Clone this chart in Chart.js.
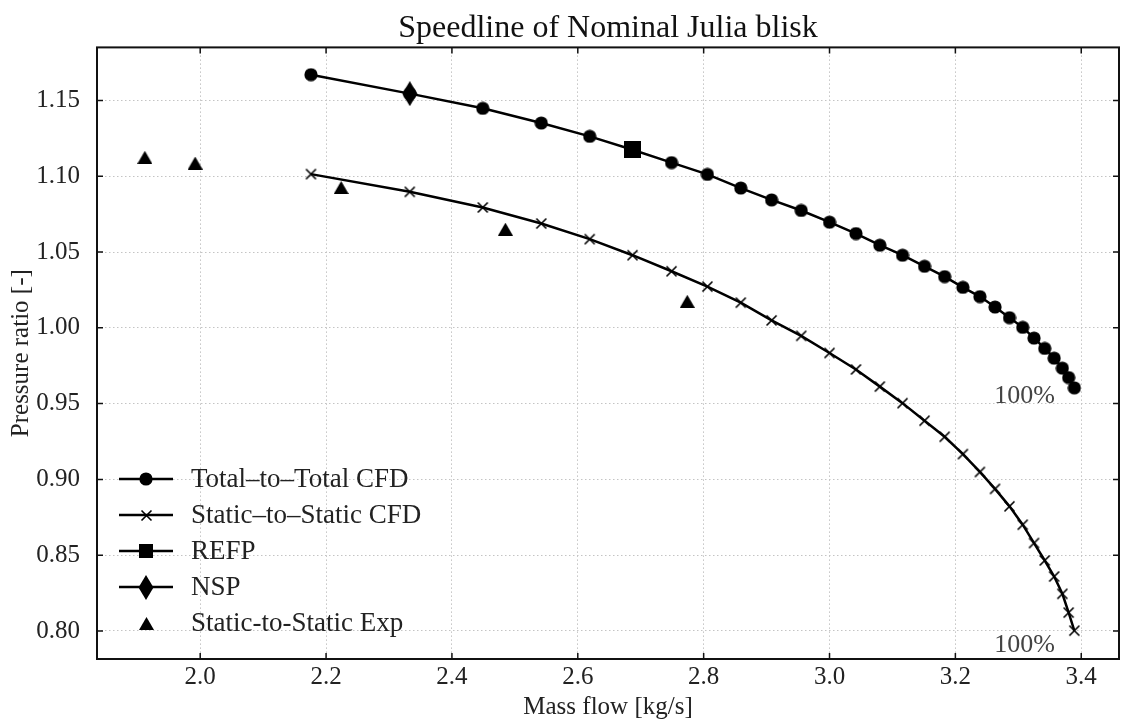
<!DOCTYPE html>
<html>
<head>
  <meta charset="UTF-8">
  <title>Speedline of Nominal Julia blisk</title>
  <script src="https://cdn.jsdelivr.net/npm/chart.js"></script>
  <style>
    body { margin: 0; background: #fff; }
  </style>
</head>
<body>
  <canvas id="speedline" width="1123" height="722"></canvas>

  <script>
    // mass flow [kg/s] of the CFD operating points (same for both CFD curves)
    const massFlow = [2.176, 2.333, 2.449, 2.542, 2.619, 2.687, 2.749, 2.806, 2.859, 2.908,
      2.955, 3.000, 3.042, 3.080, 3.116, 3.151, 3.183, 3.212, 3.239, 3.263,
      3.286, 3.307, 3.325, 3.342, 3.357, 3.370, 3.380, 3.389];
    const ttCfd = [1.167, 1.1545, 1.1448, 1.1351, 1.1263, 1.1175, 1.1090, 1.1012, 1.0922, 1.0844,
      1.0774, 1.0697, 1.0622, 1.0545, 1.0479, 1.0406, 1.0338, 1.0267, 1.0206, 1.0137,
      1.0067, 1.0003, 0.9932, 0.9864, 0.9800, 0.9734, 0.9672, 0.9604];
    const ssCfd = [1.1014, 1.0897, 1.0794, 1.0688, 1.0585, 1.0479, 1.0373, 1.0272, 1.0166, 1.0049,
      0.9947, 0.9834, 0.9725, 0.9612, 0.9503, 0.9387, 0.9281, 0.9167, 0.9049, 0.8937,
      0.8822, 0.8701, 0.8580, 0.8465, 0.8359, 0.8245, 0.8121, 0.8002];
    const refpFlow = [2.687];
    const refpRatio = [1.1175];
    const nspFlow = [2.333];
    const nspRatio = [1.1545];
    const expFlow = [1.912, 1.992, 2.224, 2.485, 2.774];
    const expRatio = [1.1125, 1.1087, 1.0926, 1.0651, 1.0175];

    const xTicks = [2.0, 2.2, 2.4, 2.6, 2.8, 3.0, 3.2, 3.4];
    const yTicks = [0.80, 0.85, 0.90, 0.95, 1.00, 1.05, 1.10, 1.15];

    // "100%" speed labels, anchored at their right/baseline in data units
    const speedText = ['100%', '100%'];
    const speedX = [3.358, 3.358];
    const speedY = [0.9507, 0.7862];

    const serif = "'Liberation Serif', 'Times New Roman', serif";

    function pts(xs, ys) {
      return xs.map((x, i) => ({ x: x, y: ys[i] }));
    }

    // markers are small canvases, so the points don't make chart.js
    // reserve extra room round the plot area
    function marker(w, h, paint) {
      const c = document.createElement('canvas');
      c.width = w;
      c.height = h;
      const g = c.getContext('2d');
      g.fillStyle = '#000';
      g.strokeStyle = '#000';
      g.beginPath();
      paint(g, w, h);
      return c;
    }
    function poly(corners) {
      return (g) => {
        corners.forEach((p, i) => i ? g.lineTo(p[0], p[1]) : g.moveTo(p[0], p[1]));
        g.closePath();
        g.fill();
      };
    }
    const dot = marker(14, 14, (g) => { g.arc(7, 7, 6.6, 0, Math.PI * 2); g.fill(); });
    const cross = marker(13, 13, (g) => {
      g.lineWidth = 1.6;
      g.moveTo(1.5, 1.5); g.lineTo(11.5, 11.5);
      g.moveTo(11.5, 1.5); g.lineTo(1.5, 11.5);
      g.stroke();
    });
    const square = marker(17, 17, poly([[0, 0], [17, 0], [17, 17], [0, 17]]));
    const smallSquare = marker(14, 14, poly([[0, 0], [14, 0], [14, 14], [0, 14]]));
    const diamond = marker(16, 25, poly([[8, 0], [15.5, 12.5], [8, 25], [0.5, 12.5]]));
    const triangle = marker(15, 13, poly([[7.5, 0], [15, 13], [0, 13]]));

    // legend inside the axes, lower left, no frame
    const insideLegend = {
      id: 'insideLegend',
      afterDraw(chart) {
        const ctx = chart.ctx;
        const area = chart.chartArea;
        const sets = chart.data.datasets;
        ctx.save();
        ctx.font = '27px ' + serif;
        ctx.textBaseline = 'middle';
        ctx.textAlign = 'left';
        sets.forEach((ds, i) => {
          const y = area.bottom - 36 - 36 * (sets.length - 1 - i);
          const x0 = area.left + 22;
          if (ds.legendLine) {
            ctx.strokeStyle = '#000';
            ctx.lineWidth = 2.5;
            ctx.beginPath();
            ctx.moveTo(x0, y);
            ctx.lineTo(x0 + 54, y);
            ctx.stroke();
          }
          const img = ds.legendStyle || ds.pointStyle;
          ctx.drawImage(img, Math.round(x0 + 27 - img.width / 2), Math.round(y - img.height / 2));
          ctx.fillStyle = '#222';
          ctx.fillText(ds.label, x0 + 72, y + 1);
        });
        ctx.restore();
      }
    };

    // classic frame with inward ticks on all four sides, plus the 100% labels
    const frameAndTicks = {
      id: 'frameAndTicks',
      afterDraw(chart) {
        const ctx = chart.ctx;
        const a = chart.chartArea;
        const xs = chart.scales.x;
        const ys = chart.scales.y;
        ctx.save();
        ctx.strokeStyle = '#111';
        ctx.lineWidth = 1.5;
        ctx.beginPath();
        xTicks.forEach(v => {
          const px = xs.getPixelForValue(v);
          ctx.moveTo(px, a.bottom);
          ctx.lineTo(px, a.bottom - 6);
          ctx.moveTo(px, a.top);
          ctx.lineTo(px, a.top + 6);
        });
        yTicks.forEach(v => {
          const py = ys.getPixelForValue(v);
          ctx.moveTo(a.left, py);
          ctx.lineTo(a.left + 6, py);
          ctx.moveTo(a.right, py);
          ctx.lineTo(a.right - 6, py);
        });
        ctx.stroke();
        ctx.lineWidth = 2;
        ctx.strokeRect(a.left, a.top, a.right - a.left, a.bottom - a.top);

        ctx.fillStyle = '#444';
        ctx.font = '26px ' + serif;
        ctx.textAlign = 'right';
        ctx.textBaseline = 'alphabetic';
        speedText.forEach((t, i) => {
          ctx.fillText(t, xs.getPixelForValue(speedX[i]), ys.getPixelForValue(speedY[i]));
        });
        ctx.restore();
      }
    };

    const gridStyle = { color: '#c4c4c4', lineWidth: 1, drawTicks: false };
    const markerBase = { borderColor: '#000', backgroundColor: '#000', pointRadius: 0.5, pointBorderWidth: 0 };

    new Chart(document.getElementById('speedline').getContext('2d'), {
      type: 'scatter',
      data: {
        datasets: [
          Object.assign({}, markerBase, {
            label: 'Total–to–Total CFD',
            data: pts(massFlow, ttCfd),
            showLine: true,
            legendLine: true,
            borderWidth: 2.5,
            pointStyle: dot,
            order: 2
          }),
          Object.assign({}, markerBase, {
            label: 'Static–to–Static CFD',
            data: pts(massFlow, ssCfd),
            showLine: true,
            legendLine: true,
            borderWidth: 2.5,
            pointStyle: cross,
            order: 2
          }),
          Object.assign({}, markerBase, {
            label: 'REFP',
            data: pts(refpFlow, refpRatio),
            legendLine: true,
            pointStyle: square,
            legendStyle: smallSquare,
            order: 0
          }),
          Object.assign({}, markerBase, {
            label: 'NSP',
            data: pts(nspFlow, nspRatio),
            legendLine: true,
            pointStyle: diamond,
            order: 0
          }),
          Object.assign({}, markerBase, {
            label: 'Static-to-Static Exp',
            data: pts(expFlow, expRatio),
            legendLine: false,
            pointStyle: triangle,
            order: 1
          })
        ]
      },
      options: {
        responsive: false,
        animation: false,
        layout: { padding: { left: 0, right: 2, top: 0, bottom: 0 } },
        plugins: {
          legend: { display: false },
          tooltip: { enabled: false },
          title: {
            display: true,
            fullSize: false,
            text: 'Speedline of Nominal Julia blisk',
            color: '#111',
            font: { family: serif, size: 32, weight: 'normal' },
            padding: { top: 9, bottom: 0 }
          }
        },
        scales: {
          x: {
            type: 'linear',
            min: 1.836,
            max: 3.46,
            afterBuildTicks: s => { s.ticks = xTicks.map(v => ({ value: v })); },
            afterFit: s => {
              s.height = 63;
              s.paddingLeft = 0;
              s.paddingRight = 0;
            },
            grid: gridStyle,
            border: { display: false, dash: [1.5, 2.5] },
            ticks: {
              color: '#222',
              padding: 3,
              maxRotation: 0,
              autoSkip: false,
              font: { family: serif, size: 25 },
              callback: v => v.toFixed(1)
            },
            title: {
              display: true,
              text: 'Mass flow [kg/s]',
              color: '#222',
              font: { family: serif, size: 25 },
              padding: { top: 0, bottom: 0 }
            }
          },
          y: {
            type: 'linear',
            min: 0.7815,
            max: 1.185,
            afterBuildTicks: s => { s.ticks = yTicks.map(v => ({ value: v })); },
            afterFit: s => {
              s.width = 97;
              s.paddingTop = 0;
              s.paddingBottom = 0;
            },
            grid: gridStyle,
            border: { display: false, dash: [1.5, 2.5] },
            ticks: {
              color: '#222',
              padding: 17,
              autoSkip: false,
              font: { family: serif, size: 25 },
              callback: v => v.toFixed(2)
            },
            title: {
              display: true,
              text: 'Pressure ratio [-]',
              color: '#222',
              font: { family: serif, size: 25 },
              padding: { top: 6, bottom: 0 }
            }
          }
        }
      },
      plugins: [frameAndTicks, insideLegend]
    });
  </script>
</body>
</html>
